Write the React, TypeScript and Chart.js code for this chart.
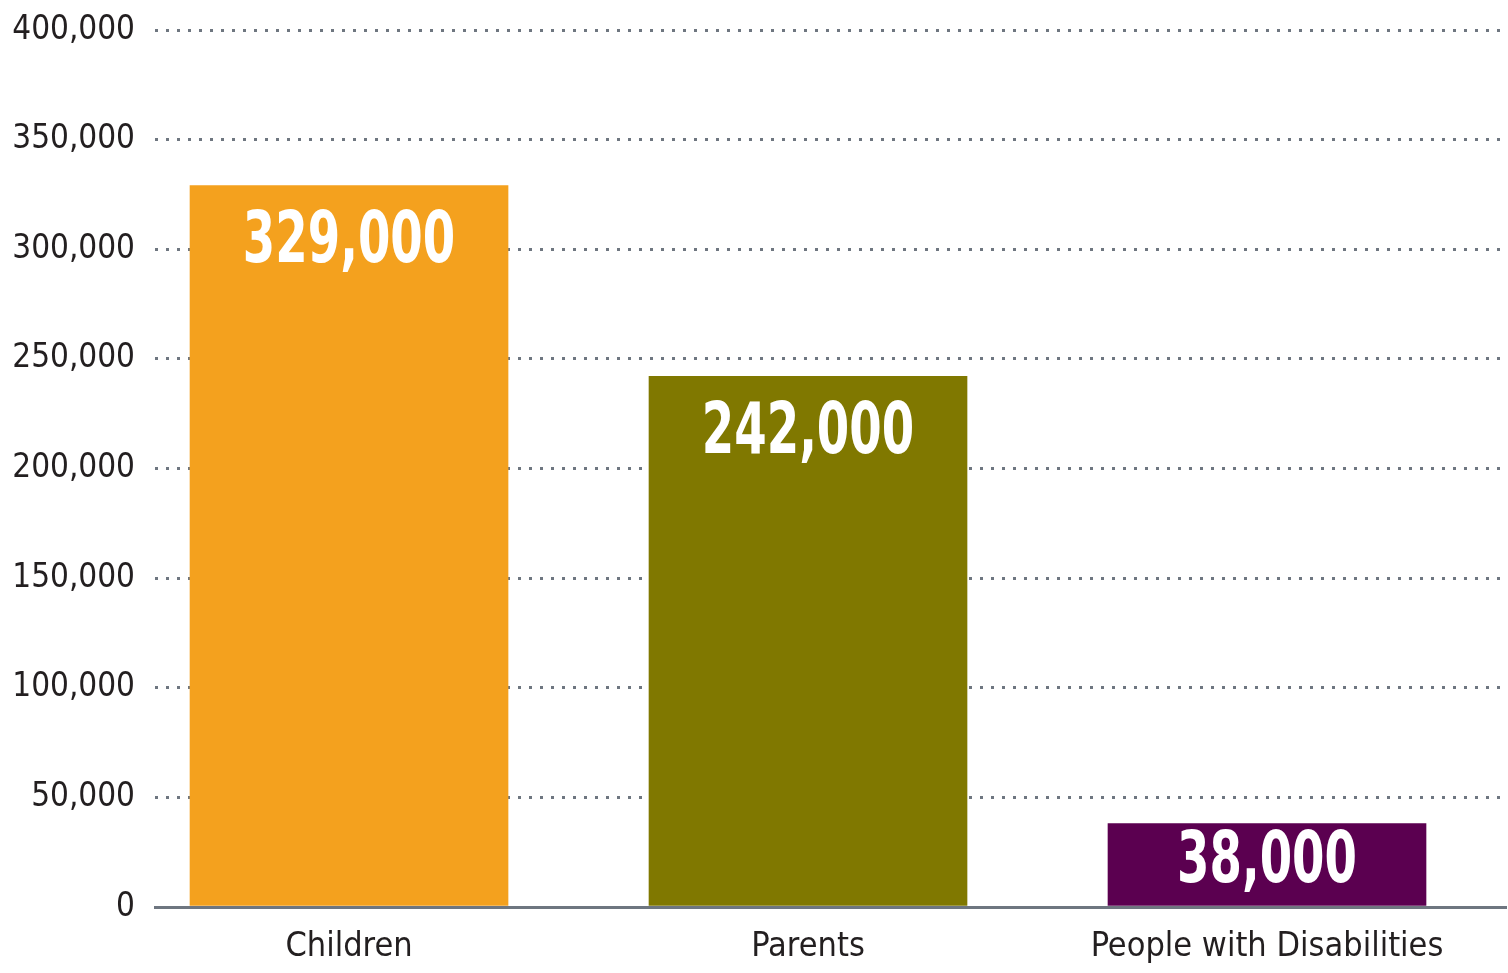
import React, { useEffect, useRef } from "react";
import { Chart, registerables } from "chart.js";

Chart.register(...registerables);

const categories = ["Children", "Parents", "People with Disabilities"];
const values = [329000, 242000, 38000];
const barColors = ["#F4A11E", "#807800", "#5B0050"];
const yTicks = [0, 50000, 100000, 150000, 200000, 250000, 300000, 350000, 400000];

const FONT = "'DejaVu Sans Condensed', 'Liberation Sans Narrow', sans-serif";

const fmt = (v: number) => v.toLocaleString("en-US");

const valueLabelPlugin = {
  id: "valueLabels",
  afterDatasetsDraw(chart: any) {
    const { ctx } = chart;
    const meta = chart.getDatasetMeta(0);
    meta.data.forEach((bar: any, i: number) => {
      const cy = Math.min(bar.y + 58, bar.base - 42);
      ctx.save();
      ctx.translate(bar.x, cy);
      ctx.scale(0.72, 1);
      ctx.fillStyle = "#ffffff";
      ctx.font = `bold 72px ${FONT}`;
      ctx.textAlign = "center";
      ctx.textBaseline = "middle";
      ctx.fillText(fmt(values[i]), 0, 0);
      ctx.restore();
    });
  },
};

export default function App() {
  const ref = useRef<HTMLCanvasElement | null>(null);

  useEffect(() => {
    if (!ref.current) return;
    const chart = new Chart(ref.current, {
      type: "bar",
      data: {
        datasets: [
          {
            data: values.map((v, i) => ({ x: i, y: v })),
            backgroundColor: barColors,
            borderWidth: 0,
            barThickness: 318,
          },
        ],
      },
      options: {
        animation: false,
        responsive: false,
        maintainAspectRatio: false,
        layout: { padding: { top: 30, right: 2, left: 0, bottom: 0 } },
        plugins: {
          legend: { display: false },
          tooltip: { enabled: false },
        },
        scales: {
          x: {
            type: "linear",
            offset: false,
            min: -0.4227,
            max: 2.5207,
            afterBuildTicks: (scale: any) => {
              scale.ticks = categories.map((_, i) => ({ value: i }));
            },
            afterFit: (scale: any) => {
              scale.height = 66;
            },
            grid: { display: false, drawTicks: false, offset: false },
            border: { display: true, color: "#6e7680", width: 3 },
            ticks: {
              autoSkip: false,
              maxRotation: 0,
              padding: 20,
              color: "#231f20",
              font: { family: FONT, size: 34 },
              callback: (v: any) => categories[Math.round(Number(v))] ?? "",
            },
          },
          y: {
            min: 0,
            max: 400000,
            afterFit: (scale: any) => {
              scale.width = 155;
            },
            afterBuildTicks: (scale: any) => {
              scale.ticks = yTicks.map((v) => ({ value: v }));
            },
            grid: {
              color: "#6e7680",
              lineWidth: 3,
              drawTicks: false,
            },
            border: { display: false, dash: [3, 8] },
            ticks: {
              padding: 20,
              color: "#231f20",
              font: { family: FONT, size: 33, lineHeight: 0.5 },
              callback: (v: any) => fmt(Number(v)),
            },
          },
        },
      },
      plugins: [valueLabelPlugin],
    });
    return () => chart.destroy();
  }, []);

  return (
    <div style={{ position: "absolute", left: 0, top: 0, width: 1508, height: 973, background: "#fff" }}>
      <canvas ref={ref} width={1508} height={973} style={{ width: 1508, height: 973 }} />
    </div>
  );
}
